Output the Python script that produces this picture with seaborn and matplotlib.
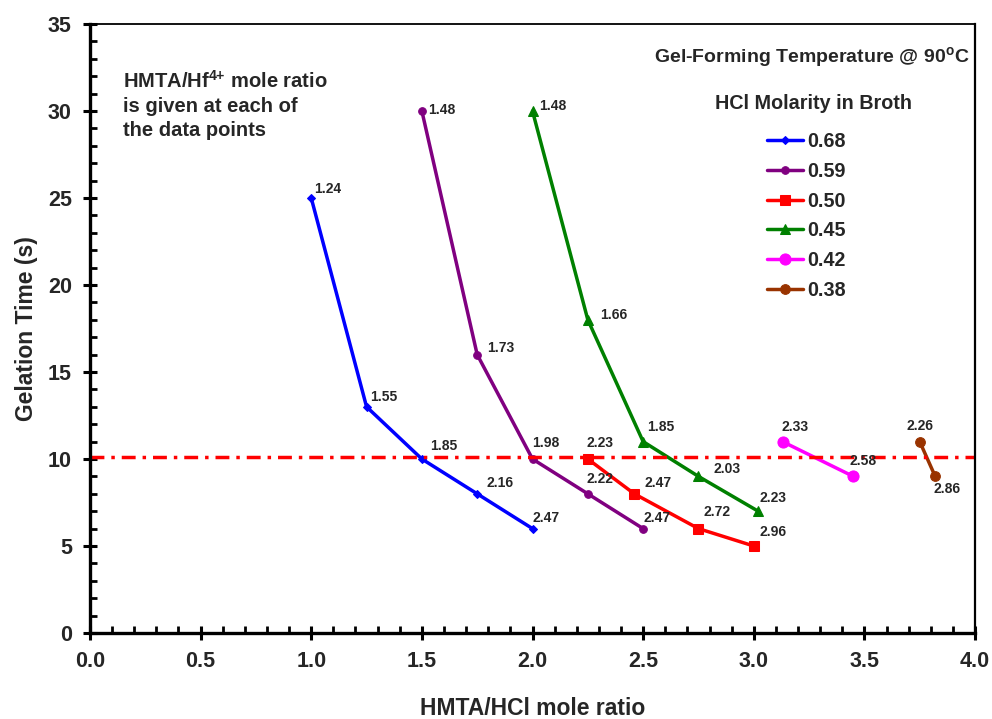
import pandas as pd
import seaborn as sns
import matplotlib.pyplot as plt
from matplotlib.ticker import MultipleLocator

# HCl molarity in broth (legend entries)
molarity = ['0.68', '0.59', '0.50', '0.45', '0.42', '0.38']

# HMTA/HCl mole ratio (x) and gelation time in s (y) for each series
x_068 = [1.00, 1.25, 1.50, 1.75, 2.00]
y_068 = [25, 13, 10, 8, 6]
x_059 = [1.50, 1.75, 2.00, 2.25, 2.50]
y_059 = [30, 16, 10, 8, 6]
x_050 = [2.25, 2.46, 2.75, 3.00]
y_050 = [10, 8, 6, 5]
x_045 = [2.00, 2.25, 2.50, 2.75, 3.02]
y_045 = [30, 18, 11, 9, 7]
x_042 = [3.13, 3.45]
y_042 = [11, 9]
x_038 = [3.75, 3.82]
y_038 = [11, 9]

# HMTA/Hf4+ mole ratio written next to each point
r_068 = ['1.24', '1.55', '1.85', '2.16', '2.47']
r_059 = ['1.48', '1.73', '1.98', '2.22', '2.47']
r_050 = ['2.23', '2.47', '2.72', '2.96']
r_045 = ['1.48', '1.66', '1.85', '2.03', '2.23']
r_042 = ['2.33', '2.58']
r_038 = ['2.26', '2.86']

limit_time = 10.1

xs = [x_068, x_059, x_050, x_045, x_042, x_038]
ys = [y_068, y_059, y_050, y_045, y_042, y_038]
rs = [r_068, r_059, r_050, r_045, r_042, r_038]

frames = []
for m, x, y, r in zip(molarity, xs, ys, rs):
    frames.append(pd.DataFrame({'molarity': m, 'ratio': x, 'time': y, 'hf': r}))
df = pd.concat(frames, ignore_index=True)

# styling
colors = ['#0000FF', '#800080', '#FF0000', '#008000', '#FF00FF', '#993300']
markers = ['D', 'o', 's', '^', 'o', 'o']
msizes = [4.5, 5.5, 7, 7.5, 8, 7]
# label offsets in pixels from each point
offsets = [
    [(3, 9), (4, 10), (8, 13), (9, 11), (0, 11)],
    [(6, 1), (10, 7), (0, 16), (-1, 15), (0, 11)],
    [(-1, 16), (10, 11), (5, 17), (6, 14)],
    [(7, 5), (12, 5), (4, 15), (15, 7), (1, 13)],
    [(-1, 15), (-4, 15)],
    [(-13, 16), (-2, -13)],
]

sns.set_style('ticks')
plt.rcParams['font.family'] = ['Liberation Sans', 'DejaVu Sans']
plt.rcParams['font.weight'] = 'bold'
plt.rcParams['mathtext.fontset'] = 'custom'
plt.rcParams['mathtext.rm'] = 'Liberation Sans:bold'
plt.rcParams['mathtext.bf'] = 'Liberation Sans:bold'

fig = plt.figure(figsize=(9.92, 7.19), dpi=100)
ax = fig.add_axes([0.0907, 0.1196, 0.8922, 0.847])

for i, m in enumerate(molarity):
    sub = df[df['molarity'] == m]
    sns.lineplot(data=sub, x='ratio', y='time', ax=ax, color=colors[i],
                 marker=markers[i], markersize=msizes[i], markeredgecolor=colors[i],
                 linewidth=2.5, label=m, estimator=None, sort=False)
    for (_, row), off in zip(sub.iterrows(), offsets[i]):
        ax.annotate(row['hf'], (row['ratio'], row['time']), xytext=off,
                    textcoords='offset pixels', fontsize=10, fontweight='bold',
                    ha='left', va='center')

ax.axhline(limit_time, color='#FF0000', linewidth=2.5, dashes=(4, 2, 1, 2))

ax.set_xlim(0, 4)
ax.set_ylim(0, 35)
ax.xaxis.set_major_locator(MultipleLocator(0.5))
ax.xaxis.set_minor_locator(MultipleLocator(0.1))
ax.yaxis.set_major_locator(MultipleLocator(5))
ax.yaxis.set_minor_locator(MultipleLocator(1))
ax.xaxis.set_major_formatter(plt.FormatStrFormatter('%.1f'))
ax.tick_params(which='major', direction='inout', length=10, width=2.2,
               labelsize=15.5, pad=8, color='black')
ax.tick_params(which='minor', direction='in', length=5, width=2, color='black')
for lab in ax.get_xticklabels() + ax.get_yticklabels():
    lab.set_fontweight('bold')

for side, lw in [('left', 2.4), ('bottom', 2.4), ('top', 1.3), ('right', 1.6)]:
    ax.spines[side].set_visible(True)
    ax.spines[side].set_linewidth(lw)
    ax.spines[side].set_color('black')

ax.set_xlabel('HMTA/HCl mole ratio', fontsize=16.5, fontweight='bold', labelpad=18)
ax.set_ylabel('Gelation Time (s)', fontsize=16.5, fontweight='bold', labelpad=7)

ax.text(0.037, 0.925, 'HMTA/Hf$^{\\text{4+}}$ mole ratio\nis given at each of\nthe data points',
        transform=ax.transAxes, fontsize=14.5, fontweight='bold', ha='left', va='top',
        linespacing=1.35)
ax.text(0.994, 0.944, 'Gel-Forming Temperature @ 90$^{\\text{o}}$C', transform=ax.transAxes,
        fontsize=14, fontweight='bold', ha='right', va='center')
ax.text(0.817, 0.870, 'HCl Molarity in Broth', transform=ax.transAxes,
        fontsize=14.2, fontweight='bold', ha='center', va='center')

leg = ax.legend(loc='upper left', bbox_to_anchor=(0.765, 0.823), frameon=False,
                fontsize=14.2, handlelength=1.8, handletextpad=0.25,
                labelspacing=0.55, borderpad=0, borderaxespad=0)
for t in leg.get_texts():
    t.set_fontweight('bold')

fig.savefig('out.png', dpi=100)
